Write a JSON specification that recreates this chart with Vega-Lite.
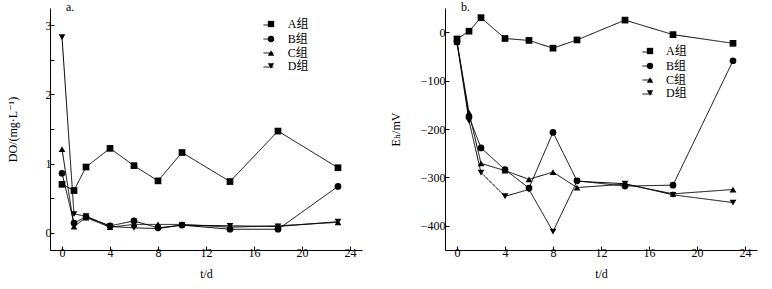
{
  "$schema": "https://vega.github.io/schema/vega-lite/v6.json",
  "background": "white",
  "padding": {"left": 6, "top": 1, "right": 5, "bottom": 5},
  "spacing": 27,
  "config": {
    "view": {"stroke": null},
    "font": "Liberation Serif, Noto Sans CJK SC",
    "axis": {
      "domainColor": "black",
      "tickColor": "black",
      "labelColor": "black",
      "titleColor": "black",
      "labelFont": "Liberation Serif",
      "titleFont": "Liberation Serif, DejaVu Serif",
      "labelFontSize": 12,
      "titleFontSize": 12,
      "titleFontWeight": "normal",
      "grid": false,
      "tickSize": -4,
      "domainWidth": 1,
      "tickWidth": 1
    },
    "legend": {"labelFontSize": 12, "labelFont": "Liberation Serif, Noto Sans CJK SC", "labelColor": "black", "padding": 0, "rowPadding": 1, "title": null},
    "title": {"fontSize": 12, "fontWeight": "normal", "font": "Liberation Serif", "anchor": "start", "frame": "group", "color": "black"}
  },
  "datasets": {
    "do": [
      {"group": "A组", "t": 0, "v": 0.70}, {"group": "A组", "t": 1, "v": 0.61}, {"group": "A组", "t": 2, "v": 0.95}, {"group": "A组", "t": 4, "v": 1.22}, {"group": "A组", "t": 6, "v": 0.97}, {"group": "A组", "t": 8, "v": 0.75}, {"group": "A组", "t": 10, "v": 1.16}, {"group": "A组", "t": 14, "v": 0.74}, {"group": "A组", "t": 18, "v": 1.47}, {"group": "A组", "t": 23, "v": 0.94},
      {"group": "B组", "t": 0, "v": 0.86}, {"group": "B组", "t": 1, "v": 0.14}, {"group": "B组", "t": 2, "v": 0.23}, {"group": "B组", "t": 4, "v": 0.10}, {"group": "B组", "t": 6, "v": 0.17}, {"group": "B组", "t": 8, "v": 0.07}, {"group": "B组", "t": 10, "v": 0.11}, {"group": "B组", "t": 14, "v": 0.05}, {"group": "B组", "t": 18, "v": 0.05}, {"group": "B组", "t": 23, "v": 0.67},
      {"group": "C组", "t": 0, "v": 1.21}, {"group": "C组", "t": 1, "v": 0.09}, {"group": "C组", "t": 2, "v": 0.22}, {"group": "C组", "t": 4, "v": 0.08}, {"group": "C组", "t": 6, "v": 0.12}, {"group": "C组", "t": 8, "v": 0.12}, {"group": "C组", "t": 10, "v": 0.12}, {"group": "C组", "t": 14, "v": 0.08}, {"group": "C组", "t": 18, "v": 0.10}, {"group": "C组", "t": 23, "v": 0.15},
      {"group": "D组", "t": 0, "v": 2.83}, {"group": "D组", "t": 1, "v": 0.27}, {"group": "D组", "t": 2, "v": 0.24}, {"group": "D组", "t": 4, "v": 0.09}, {"group": "D组", "t": 6, "v": 0.07}, {"group": "D组", "t": 8, "v": 0.06}, {"group": "D组", "t": 10, "v": 0.11}, {"group": "D组", "t": 14, "v": 0.10}, {"group": "D组", "t": 18, "v": 0.09}, {"group": "D组", "t": 23, "v": 0.16}
    ],
    "eh": [
      {"group": "A组", "t": 0, "v": -14}, {"group": "A组", "t": 1, "v": 2}, {"group": "A组", "t": 2, "v": 30}, {"group": "A组", "t": 4, "v": -13}, {"group": "A组", "t": 6, "v": -17}, {"group": "A组", "t": 8, "v": -33}, {"group": "A组", "t": 10, "v": -16}, {"group": "A组", "t": 14, "v": 25}, {"group": "A组", "t": 18, "v": -5}, {"group": "A组", "t": 23, "v": -23},
      {"group": "B组", "t": 0, "v": -20}, {"group": "B组", "t": 1, "v": -175}, {"group": "B组", "t": 2, "v": -239}, {"group": "B组", "t": 4, "v": -284}, {"group": "B组", "t": 6, "v": -322}, {"group": "B组", "t": 8, "v": -207}, {"group": "B组", "t": 10, "v": -307}, {"group": "B组", "t": 14, "v": -318}, {"group": "B组", "t": 18, "v": -316}, {"group": "B组", "t": 23, "v": -59},
      {"group": "C组", "t": 0, "v": -20}, {"group": "C组", "t": 1, "v": -166}, {"group": "C组", "t": 2, "v": -271}, {"group": "C组", "t": 4, "v": -286}, {"group": "C组", "t": 6, "v": -304}, {"group": "C组", "t": 8, "v": -289}, {"group": "C组", "t": 10, "v": -321}, {"group": "C组", "t": 14, "v": -314}, {"group": "C组", "t": 18, "v": -334}, {"group": "C组", "t": 23, "v": -325},
      {"group": "D组", "t": 0, "v": -22}, {"group": "D组", "t": 1, "v": -183}, {"group": "D组", "t": 2, "v": -290}, {"group": "D组", "t": 4, "v": -339}, {"group": "D组", "t": 6, "v": -325}, {"group": "D组", "t": 8, "v": -412}, {"group": "D组", "t": 10, "v": -308}, {"group": "D组", "t": 14, "v": -313}, {"group": "D组", "t": 18, "v": -336}, {"group": "D组", "t": 23, "v": -352}
    ]
  },
  "hconcat": [
    {
      "width": 312,
      "height": 242,
      "title": {"text": "a.", "dx": 16, "offset": -11, "dy": -5},
      "data": {"name": "do"},
      "layer": [
        {
          "mark": {"type": "line", "color": "black", "strokeWidth": 1},
          "encoding": {
            "x": {"field": "t", "type": "quantitative", "scale": {"domain": [-1, 25], "nice": false, "zero": false},
              "axis": {"title": "t/d", "values": [0, 2, 4, 6, 8, 10, 12, 14, 16, 18, 20, 22, 24], "labelExpr": "datum.value % 4 === 0 ? format(datum.value, 'd') : ''", "labelOverlap": false, "labelPadding": 1, "titlePadding": 10}},
            "y": {"field": "v", "type": "quantitative", "scale": {"domain": [-0.25, 3.25], "nice": false, "zero": false},
              "axis": {"title": "DO/(mg·L⁻¹)", "values": [0, 0.5, 1, 1.5, 2, 2.5, 3], "labelExpr": "datum.value % 1 === 0 ? format(datum.value, 'd') : ''", "labelOverlap": false, "labelPadding": 3, "titlePadding": 26}},
            "detail": {"field": "group"},
            "strokeDash": {"field": "group", "type": "nominal",
              "scale": {"domain": ["D组", "C组", "B组", "A组"], "range": [[1, 0], [1, 0], [1, 0], [1, 0]]},
              "legend": {"orient": "none", "legendX": 211.5, "legendY": 10, "symbolType": "M-0.77,0H0.77", "symbolSize": 169, "symbolStrokeColor": "black", "symbolStrokeWidth": 1, "labelExpr": "''", "labelOffset": 0}}
          }
        },
        {
          "mark": {"type": "point", "filled": true, "color": "black", "opacity": 1, "size": 45},
          "encoding": {
            "x": {"field": "t", "type": "quantitative"},
            "y": {"field": "v", "type": "quantitative"},
            "shape": {"field": "group", "type": "nominal",
              "scale": {"domain": ["A组", "B组", "C组", "D组"], "range": ["square", "circle", "triangle-up", "triangle-down"]},
              "legend": {"orient": "none", "legendX": 215, "legendY": 10, "symbolSize": 40, "symbolFillColor": "black", "symbolStrokeColor": "black", "labelOffset": 10.8}}
          }
        }
      ]
    },
    {
      "width": 312,
      "height": 242,
      "title": {"text": "b.", "dx": 16, "offset": -11, "dy": -5},
      "data": {"name": "eh"},
      "layer": [
        {
          "mark": {"type": "line", "color": "black", "strokeWidth": 1},
          "encoding": {
            "x": {"field": "t", "type": "quantitative", "scale": {"domain": [-1, 25], "nice": false, "zero": false},
              "axis": {"title": "t/d", "values": [0, 2, 4, 6, 8, 10, 12, 14, 16, 18, 20, 22, 24], "labelExpr": "datum.value % 4 === 0 ? format(datum.value, 'd') : ''", "labelOverlap": false, "labelPadding": 1, "titlePadding": 10}},
            "y": {"field": "v", "type": "quantitative", "scale": {"domain": [-450, 50], "nice": false, "zero": false},
              "axis": {"title": "Eₕ/mV", "values": [-400, -350, -300, -250, -200, -150, -100, -50, 0, 50], "labelExpr": "(datum.value + 1000) % 100 === 0 ? format(datum.value, 'd') : ''", "labelOverlap": false, "labelPadding": 4, "titlePadding": 18}},
            "detail": {"field": "group"},
            "strokeDash": {"field": "group", "type": "nominal",
              "scale": {"domain": ["D组", "C组", "B组", "A组"], "range": [[1, 0], [1, 0], [1, 0], [1, 0]]},
              "legend": {"orient": "none", "legendX": 195.5, "legendY": 37, "symbolType": "M-0.77,0H0.77", "symbolSize": 169, "symbolStrokeColor": "black", "symbolStrokeWidth": 1, "labelExpr": "''", "labelOffset": 0}}
          }
        },
        {
          "mark": {"type": "point", "filled": true, "color": "black", "opacity": 1, "size": 45},
          "encoding": {
            "x": {"field": "t", "type": "quantitative"},
            "y": {"field": "v", "type": "quantitative"},
            "shape": {"field": "group", "type": "nominal",
              "scale": {"domain": ["A组", "B组", "C组", "D组"], "range": ["square", "circle", "triangle-up", "triangle-down"]},
              "legend": {"orient": "none", "legendX": 199, "legendY": 37, "symbolSize": 40, "symbolFillColor": "black", "symbolStrokeColor": "black", "labelOffset": 10}}
          }
        }
      ]
    }
  ],
  "resolve": {"scale": {"shape": "independent", "strokeDash": "independent"}, "legend": {"shape": "independent", "strokeDash": "independent"}}
}
